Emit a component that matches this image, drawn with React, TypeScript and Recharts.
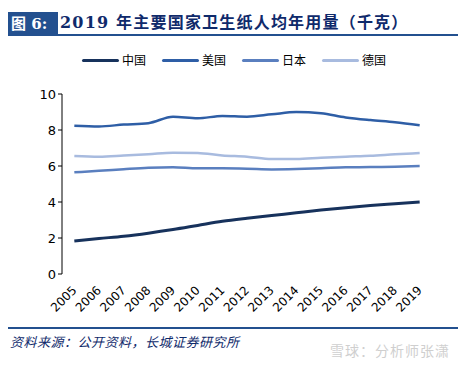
import { LineChart, Line, XAxis, YAxis } from 'recharts';

const years = ['2005', '2006', '2007', '2008', '2009', '2010', '2011', '2012', '2013', '2014', '2015', '2016', '2017', '2018', '2019'];
const china = [1.83, 1.97, 2.1, 2.27, 2.47, 2.7, 2.93, 3.1, 3.25, 3.4, 3.55, 3.68, 3.8, 3.9, 4.0];
const usa = [8.24, 8.2, 8.3, 8.38, 8.74, 8.65, 8.78, 8.74, 8.87, 9.0, 8.93, 8.7, 8.55, 8.43, 8.26];
const japan = [5.65, 5.73, 5.82, 5.9, 5.93, 5.87, 5.87, 5.85, 5.81, 5.83, 5.87, 5.93, 5.94, 5.96, 6.0];
const germany = [6.56, 6.52, 6.58, 6.65, 6.74, 6.72, 6.59, 6.52, 6.39, 6.39, 6.46, 6.52, 6.57, 6.65, 6.72];
const yTicks = [0, 2, 4, 6, 8, 10];

const series = [
  { key: 'china', name: '中国', color: '#17325c', width: 3 },
  { key: 'usa', name: '美国', color: '#2e5ea6', width: 2.5 },
  { key: 'japan', name: '日本', color: '#5a7fbf', width: 2.5 },
  { key: 'germany', name: '德国', color: '#a8bbdf', width: 2.5 },
];

const data = years.map((y, i) => ({
  idx: i,
  year: y,
  china: china[i],
  usa: usa[i],
  japan: japan[i],
  germany: germany[i],
}));

const labelTicks = years.map((_, i) => i);
const boundaryTicks = [...years.map((_, i) => i - 0.5), years.length - 0.5];

const font = 'Verdana, "DejaVu Sans", sans-serif';

const YearTick = (props: any) => {
  const { x, y, payload } = props;
  return (
    <text x={x + 3} y={y + 9} transform={`rotate(-45 ${x + 3} ${y + 9})`} textAnchor="end"
      fontSize={12} fontFamily={font} fill="#000">
      {years[payload.value]}
    </text>
  );
};

function ChartLegend() {
  return (
    <div style={{ position: 'absolute', left: 0, top: 51, width: 468, display: 'flex', justifyContent: 'center',
      fontFamily: '"Noto Sans CJK SC", sans-serif', fontSize: 12, lineHeight: '18px' }}>
      {series.map((s, i) => (
        <div key={s.key} style={{ display: 'flex', alignItems: 'center', marginLeft: i === 0 ? 0 : 16 }}>
          <span style={{ display: 'inline-block', width: 37, height: 3, borderRadius: 2, background: s.color }} />
          <span style={{ marginLeft: 3 }}>{s.name}</span>
        </div>
      ))}
    </div>
  );
}

export default function App() {
  return (
    <div style={{ position: 'absolute', left: 0, top: 0, width: 468, height: 365, background: '#fff', overflow: 'hidden' }}>
      {/* header */}
      <div style={{ position: 'absolute', left: 8, top: 12, width: 50, height: 24, background: '#23508f', color: '#fff',
        fontFamily: '"DejaVu Serif", "Noto Sans CJK SC", serif', fontWeight: 700, fontSize: 15, lineHeight: '24px', paddingLeft: 3, boxSizing: 'border-box' }}>
        图 6:
      </div>
      <div style={{ position: 'absolute', left: 60, top: 11, color: '#0f2a6b', fontFamily: '"DejaVu Serif", "Noto Sans CJK SC", serif',
        fontWeight: 700, fontSize: 16, lineHeight: '24px', letterSpacing: 1.2, whiteSpace: 'nowrap' }}>
        2019 年主要国家卫生纸人均年用量（千克）
      </div>
      <div style={{ position: 'absolute', left: 18, top: 34, width: 440, height: 2, background: '#23508f' }} />

      <ChartLegend />

      <div style={{ position: 'absolute', left: 0, top: 0 }}>
        <LineChart width={468} height={319} data={data} margin={{ top: 94, right: 36, bottom: 0, left: 22 }}>
          <XAxis xAxisId="ticks" type="number" dataKey="idx" domain={[-0.5, years.length - 0.5]} ticks={boundaryTicks}
            height={0} tick={false} tickSize={5} stroke="#000" allowDataOverflow />
          <XAxis xAxisId="main" type="number" dataKey="idx" domain={[-0.5, years.length - 0.5]} ticks={labelTicks}
            height={45} axisLine={false} tickLine={false} tick={<YearTick />} interval={0} allowDataOverflow />
          <YAxis domain={[0, 10]} ticks={yTicks} width={40} tickSize={4} stroke="#000"
            tick={{ fontSize: 13, fontFamily: font, fill: '#000' }} />
          {series.map((s) => (
            <Line key={s.key} xAxisId="main" type="monotone" dataKey={s.key} name={s.name} stroke={s.color}
              strokeWidth={s.width} dot={false} isAnimationActive={false} />
          ))}
        </LineChart>
      </div>

      {/* footer */}
      <div style={{ position: 'absolute', left: 8, top: 327, width: 450, height: 2, background: '#23508f' }} />
      <div style={{ position: 'absolute', left: 10, top: 333, color: '#0f2a6b', fontFamily: '"Noto Sans CJK SC", sans-serif',
        fontStyle: 'italic', fontSize: 13, lineHeight: '18px', letterSpacing: 0.5, whiteSpace: 'nowrap' }}>
        资料来源：公开资料，长城证券研究所
      </div>
      <div style={{ position: 'absolute', left: 330, top: 341, color: '#cfcfcf', fontFamily: '"Noto Sans CJK SC", sans-serif',
        fontSize: 14, lineHeight: '18px', letterSpacing: 1, whiteSpace: 'nowrap' }}>
        雪球：分析师张潇
      </div>
    </div>
  );
}
